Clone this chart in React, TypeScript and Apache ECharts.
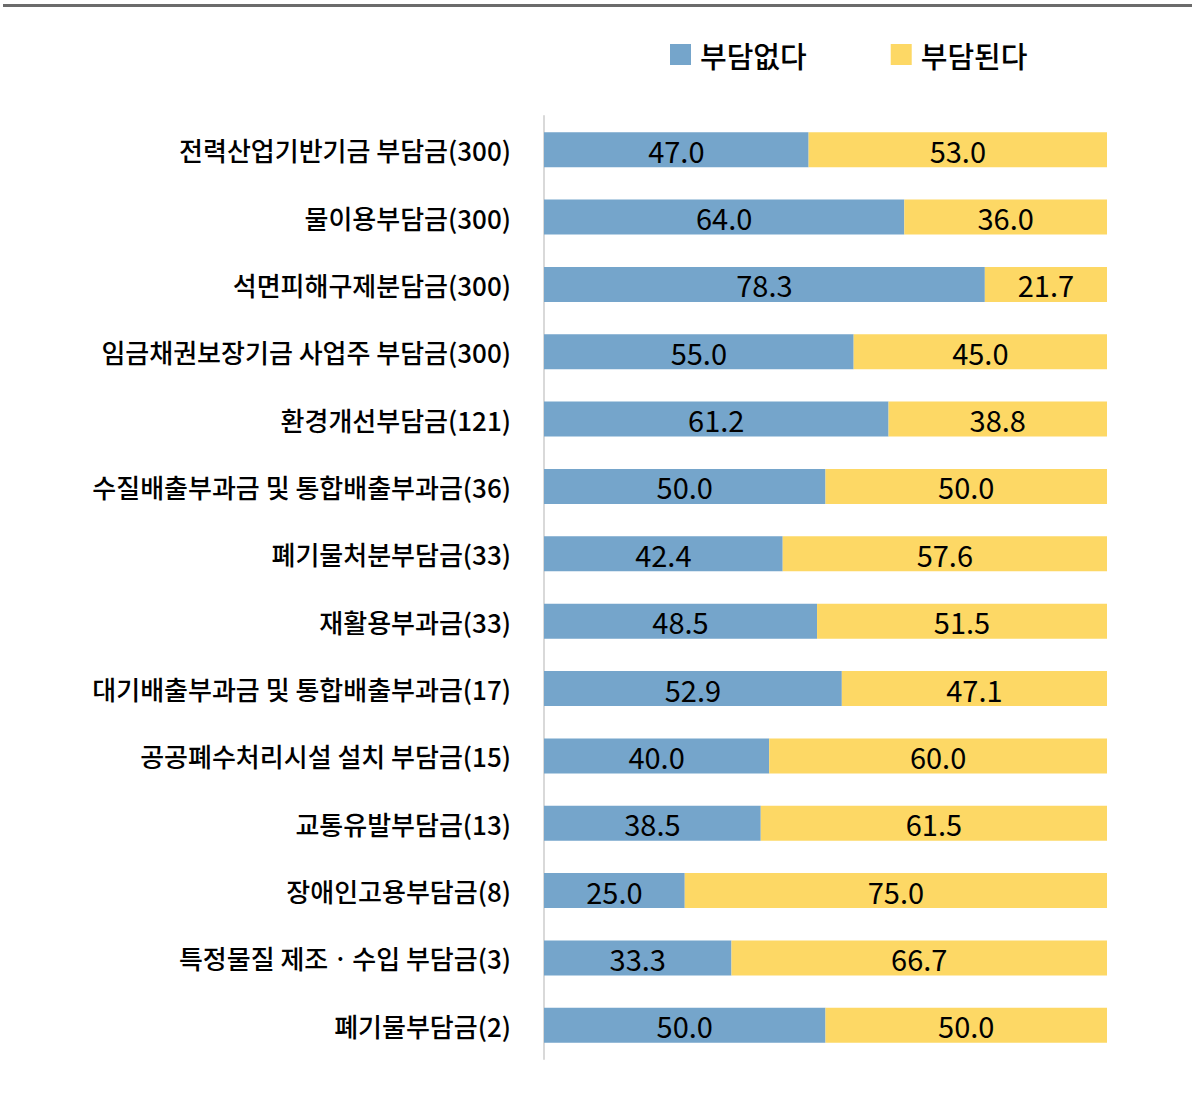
import React, { useEffect, useRef } from "react";
import * as echarts from "echarts";

const categories = [
  "전력산업기반기금 부담금(300)",
  "물이용부담금(300)",
  "석면피해구제분담금(300)",
  "임금채권보장기금 사업주 부담금(300)",
  "환경개선부담금(121)",
  "수질배출부과금 및 통합배출부과금(36)",
  "폐기물처분부담금(33)",
  "재활용부과금(33)",
  "대기배출부과금 및 통합배출부과금(17)",
  "공공폐수처리시설 설치 부담금(15)",
  "교통유발부담금(13)",
  "장애인고용부담금(8)",
  "특정물질 제조ㆍ수입 부담금(3)",
  "폐기물부담금(2)",
];

const noBurden = [47.0, 64.0, 78.3, 55.0, 61.2, 50.0, 42.4, 48.5, 52.9, 40.0, 38.5, 25.0, 33.3, 50.0];
const burden = [53.0, 36.0, 21.7, 45.0, 38.8, 50.0, 57.6, 51.5, 47.1, 60.0, 61.5, 75.0, 66.7, 50.0];

const seriesNames = ["부담없다", "부담된다"];
const FONT = "'Noto Sans CJK KR', 'Noto Sans', sans-serif";

export default function App() {
  const ref = useRef<HTMLDivElement>(null);
  useEffect(() => {
    if (!ref.current) return;
    const chart = echarts.init(ref.current, null, { renderer: "svg" });
    const labelStyle = {
      show: true,
      position: "inside" as const,
      formatter: (p: any) => Number(p.value).toFixed(1),
      color: "#000",
      fontSize: 29,
      fontFamily: FONT,
    };
    chart.setOption({
      animation: false,
      backgroundColor: "#fff",
      textStyle: { fontFamily: FONT },
      graphic: [
        {
          type: "rect",
          shape: { x: 3, y: 4, width: 1189, height: 3 },
          style: { fill: "#6b6b6b" },
        },
      ],
      legend: {
        left: 670,
        top: 40,
        padding: 0,
        itemWidth: 21,
        itemHeight: 21,
        itemGap: 84,
        icon: "rect",
        textStyle: { fontSize: 29, color: "#000", fontFamily: FONT, fontWeight: 500, padding: [0, 0, 0, 4] },
        data: seriesNames,
      },
      grid: { left: 544, right: 85, top: 116, height: 943, containLabel: false },
      xAxis: {
        type: "value",
        min: 0,
        max: 100,
        show: false,
      },
      yAxis: {
        type: "category",
        data: categories,
        inverse: true,
        axisLine: { show: true, lineStyle: { color: "#d9d9d9", width: 2 } },
        axisTick: { show: false },
        axisLabel: { color: "#000", fontSize: 26, fontWeight: 500, fontFamily: FONT, margin: 33 },
      },
      series: [
        {
          name: seriesNames[0],
          type: "bar",
          stack: "total",
          barWidth: 35,
          data: noBurden,
          itemStyle: { color: "#75a5cb" },
          label: labelStyle,
        },
        {
          name: seriesNames[1],
          type: "bar",
          stack: "total",
          barWidth: 35,
          data: burden,
          itemStyle: { color: "#fdd865" },
          label: labelStyle,
        },
      ],
    });
    return () => chart.dispose();
  }, []);
  return (
    <div
      ref={ref}
      style={{ position: "fixed", left: 0, top: 0, width: 1192, height: 1098, background: "#fff" }}
    />
  );
}
